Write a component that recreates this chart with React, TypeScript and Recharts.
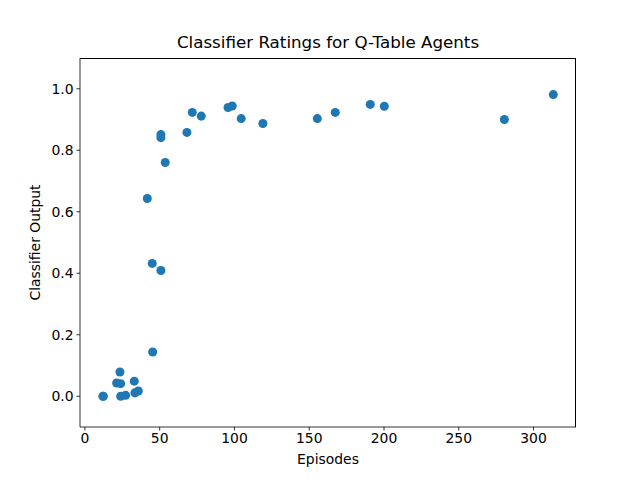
import React from 'react';
import { ScatterChart, Scatter, XAxis, YAxis, ZAxis, Label } from 'recharts';

// episodes needed vs. classifier rating, one entry per agent
const episodes = [
  12, 12.3, 21.2, 23.4, 23.9, 23.9, 27.2, 33, 33.4, 35.7,
  41.7, 45, 45.3, 50.8, 50.8, 50.8, 53.7, 68.2, 71.8, 77.8,
  95.7, 98.5, 104.5, 119, 155.4, 167.4, 190.8, 200.2, 280.5, 313.2,
];
const ratings = [
  0.0, 0.0, 0.043, 0.079, 0.041, 0.0, 0.003, 0.049, 0.011, 0.017,
  0.643, 0.432, 0.144, 0.409, 0.851, 0.841, 0.76, 0.858, 0.923, 0.911,
  0.939, 0.944, 0.903, 0.887, 0.903, 0.923, 0.949, 0.943, 0.9, 0.981,
];
const xTicks = [0, 50, 100, 150, 200, 250, 300];
const yTicks = [0, 0.2, 0.4, 0.6, 0.8, 1.0];

const points = episodes.map((x, i) => ({ x, y: ratings[i] }));

const FONT = '"DejaVu Sans", sans-serif';
const tickStyle = { fontSize: 13.9, fill: '#000', fontFamily: FONT };
const lineStyle = { stroke: '#000', strokeWidth: 0.8 };

const App: React.FC = () => {
  return (
    <div style={{ position: 'absolute', left: 0, top: 0, width: 640, height: 480, background: '#fff' }}>
      <div
        style={{
          position: 'absolute',
          left: 80,
          width: 496,
          top: 32,
          textAlign: 'center',
          fontFamily: FONT,
          fontSize: 16.7,
          lineHeight: '20px',
          color: '#000',
        }}
      >
        Classifier Ratings for Q-Table Agents
      </div>
      <ScatterChart width={640} height={480} margin={{ top: 58, right: 64, bottom: 23, left: 30 }}>
        <XAxis
          type="number"
          dataKey="x"
          domain={[-3.3, 328.4]}
          ticks={xTicks}
          height={30}
          tick={tickStyle}
          tickSize={3.5}
          tickMargin={3}
          axisLine={lineStyle}
          tickLine={lineStyle}
          allowDataOverflow
        >
          <Label value="Episodes" position="bottom" offset={-3} style={{ fontSize: 13.9, fill: '#000', fontFamily: FONT }} />
        </XAxis>
        <YAxis
          type="number"
          dataKey="y"
          domain={[-0.1, 1.1]}
          ticks={yTicks}
          width={50}
          tick={tickStyle}
          tickSize={3.5}
          tickMargin={3}
          tickFormatter={(v: number) => v.toFixed(1)}
          axisLine={lineStyle}
          tickLine={lineStyle}
          allowDataOverflow
        >
          <Label
            content={(props: any) => {
              const vb = props.viewBox || { x: 30, y: 58, height: 369 };
              const cx = 35;
              const cy = vb.y + vb.height / 2;
              return (
                <text
                  x={cx}
                  y={cy}
                  transform={`rotate(-90 ${cx} ${cy})`}
                  textAnchor="middle"
                  dominantBaseline="central"
                  style={{ fontSize: 13.9, fill: '#000', fontFamily: FONT }}
                >
                  Classifier Output
                </text>
              );
            }}
          />
        </YAxis>
        <ZAxis range={[55, 55]} />
        <Scatter data={points} fill="#1f77b4" isAnimationActive={false} />
      </ScatterChart>
      {/* axes frame (top and right spines) */}
      <div
        style={{
          position: 'absolute',
          left: 80,
          top: 58,
          width: 496,
          height: 369,
          borderTop: '1px solid #000',
          borderRight: '1px solid #000',
          boxSizing: 'border-box',
          pointerEvents: 'none',
        }}
      />
    </div>
  );
};

export default App;
